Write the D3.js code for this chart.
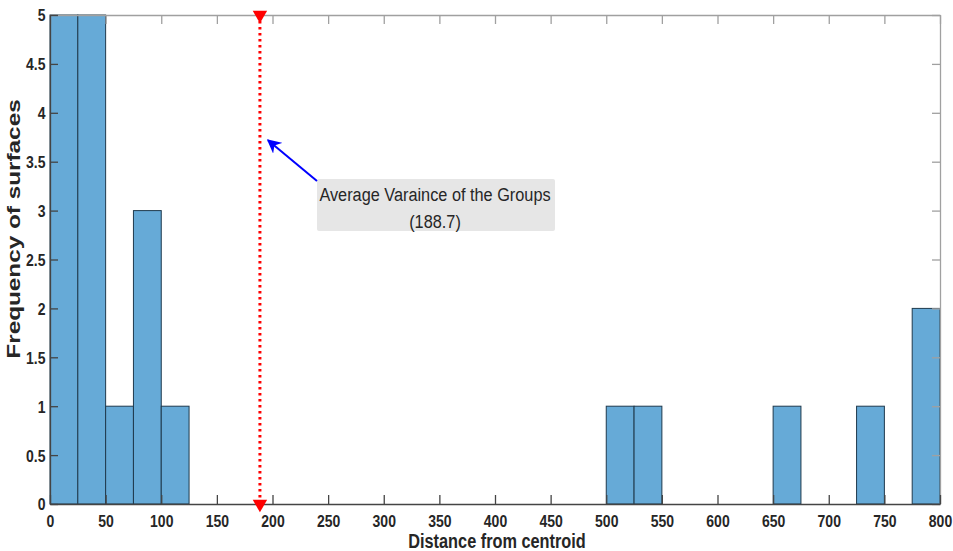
<!DOCTYPE html>
<html>
<head>
<meta charset="utf-8">
<script src="https://cdn.jsdelivr.net/npm/d3@7"></script>
<style>
  html, body { margin: 0; padding: 0; background: #fff; }
  svg { display: block; font-family: "Liberation Sans", Arial, Helvetica, sans-serif; }
</style>
</head>
<body>
<svg id="chart" width="953" height="551"></svg>
<script>
// Histogram bin edges (width 25) and the count in each bin
const binStarts = [0, 25, 50, 75, 100, 125, 150, 175, 200, 225, 250, 275, 300, 325, 350, 375,
                   400, 425, 450, 475, 500, 525, 550, 575, 600, 625, 650, 675, 700, 725, 750, 775];
const binWidth = 25;
const counts = [5, 5, 1, 3, 1, 0, 0, 0, 0, 0, 0, 0, 0, 0, 0, 0,
                0, 0, 0, 0, 1, 1, 0, 0, 0, 0, 1, 0, 0, 1, 0, 2];
const xTicks = [0, 50, 100, 150, 200, 250, 300, 350, 400, 450, 500, 550, 600, 650, 700, 750, 800];
const yTicks = [0, 0.5, 1, 1.5, 2, 2.5, 3, 3.5, 4, 4.5, 5];
const averageValue = 188.7;
const annotationLines = ["Average Varaince of the Groups", "(" + averageValue + ")"];
const xLabel = "Distance from centroid";
const yLabel = "Frequency of surfaces";

const svg = d3.select("#chart");
const plotLeft = 50, plotRight = 940, plotTop = 15, plotBottom = 504;

const x = d3.scaleLinear().domain([0, 800]).range([plotLeft, plotRight]);
const y = d3.scaleLinear().domain([0, 5]).range([plotBottom, plotTop]);

const axisColor = "#262626";
const boxColor = "#a0a0a0";
const textStretch = 1.17; // tall, slightly condensed lettering

// Bars
const bins = binStarts.map((s, i) => ({ x0: s, x1: s + binWidth, n: counts[i] }));
svg.append("g").selectAll("rect")
  .data(bins.filter(d => d.n > 0))
  .join("rect")
  .attr("x", d => x(d.x0))
  .attr("y", d => y(d.n))
  .attr("width", d => x(d.x1) - x(d.x0))
  .attr("height", d => y(0) - y(d.n))
  .attr("fill", "#66aad7")
  .attr("stroke", "#1f3a4d")
  .attr("stroke-width", 1);

// Axes with inward ticks (box style)
const xAxisBottom = d3.axisBottom(x).tickValues(xTicks).tickSizeInner(-9).tickSizeOuter(0);
const xAxisTop = d3.axisTop(x).tickValues(xTicks).tickSizeInner(-9).tickSizeOuter(0).tickFormat("");
const yAxisLeft = d3.axisLeft(y).tickValues(yTicks).tickSizeInner(-8).tickSizeOuter(0).tickFormat(d3.format("~g"));
const yAxisRight = d3.axisRight(y).tickValues(yTicks).tickSizeInner(-8).tickSizeOuter(0).tickFormat("");

function styleAxis(g, color) {
  g.select(".domain").attr("stroke", color).attr("stroke-width", 1.3);
  g.selectAll(".tick line").attr("stroke", color).attr("stroke-width", 1.3);
  g.selectAll(".tick text")
    .attr("fill", axisColor)
    .style("font-size", "14px")
    .style("font-weight", "bold");
}

svg.append("g").attr("transform", `translate(0,${plotTop})`).call(xAxisTop).call(g => styleAxis(g, boxColor));
svg.append("g").attr("transform", `translate(${plotRight},0)`).call(yAxisRight).call(g => styleAxis(g, boxColor));

svg.append("g").attr("transform", `translate(0,${plotBottom})`).call(xAxisBottom)
  .call(g => styleAxis(g, "#444"))
  .call(g => g.selectAll(".tick text")
    .attr("y", 0).attr("dy", null)
    .attr("transform", `translate(0,23) scale(1,${textStretch})`));

svg.append("g").attr("transform", `translate(${plotLeft},0)`).call(yAxisLeft)
  .call(g => styleAxis(g, "#444"))
  .call(g => g.selectAll(".tick text")
    .attr("x", 0).attr("dy", "0.36em")
    .attr("transform", `translate(-4.5,0) scale(1,${textStretch})`));

// Axis titles
svg.append("text")
  .attr("transform", `translate(497,548) scale(1,1.2)`)
  .attr("text-anchor", "middle")
  .attr("fill", axisColor)
  .style("font-size", "16.3px")
  .style("font-weight", "bold")
  .text(xLabel);

svg.append("text")
  .attr("transform", `translate(20,229) rotate(-90) scale(1.39,1)`)
  .attr("text-anchor", "middle")
  .attr("fill", axisColor)
  .style("font-size", "17.5px")
  .style("font-weight", "bold")
  .text(yLabel);

// Average marker: dotted vertical line with triangle end markers
const ax = x(averageValue);
svg.append("line")
  .attr("x1", ax).attr("x2", ax)
  .attr("y1", y(5)).attr("y2", y(0))
  .attr("stroke", "#ff0000")
  .attr("stroke-width", 3)
  .attr("stroke-dasharray", "2.5,3.5");

const tri = d3.symbol().type(d3.symbolTriangle).size(90);
[5, 0].forEach(v => {
  svg.append("path")
    .attr("d", tri())
    .attr("transform", `translate(${ax},${y(v)}) rotate(180)`)
    .attr("fill", "#ff0000");
});

// Annotation box
const boxX = 317, boxY = 179, boxW = 238, boxH = 52;
svg.append("rect")
  .attr("x", boxX).attr("y", boxY)
  .attr("width", boxW).attr("height", boxH)
  .attr("rx", 2)
  .attr("fill", "#e6e6e6");

svg.append("g").selectAll("text")
  .data(annotationLines)
  .join("text")
  .attr("transform", (d, i) => `translate(${435},${boxY + 22 + i * 27}) scale(1,1.14)`)
  .attr("text-anchor", "middle")
  .attr("fill", axisColor)
  .style("font-size", "16.3px")
  .text(d => d);

// Arrow from box to the average line
svg.append("defs").append("marker")
  .attr("id", "arrowhead")
  .attr("viewBox", "0 0 10 10")
  .attr("refX", 9).attr("refY", 5)
  .attr("markerWidth", 7).attr("markerHeight", 7)
  .attr("markerUnits", "strokeWidth")
  .attr("orient", "auto")
  .append("path")
  .attr("d", "M0,0 L10,5 L0,10 L3,5 Z")
  .attr("fill", "#0000ff");

svg.append("line")
  .attr("x1", boxX).attr("y1", boxY + 2)
  .attr("x2", ax + 8).attr("y2", y(3.72))
  .attr("stroke", "#0000ff")
  .attr("stroke-width", 2)
  .attr("marker-end", "url(#arrowhead)");
</script>
</body>
</html>
